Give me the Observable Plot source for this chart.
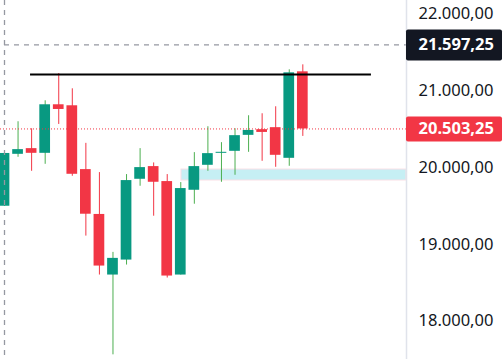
<!DOCTYPE html>
<html><head><meta charset="utf-8">
<script src="https://cdn.jsdelivr.net/npm/d3@7"></script>
<script src="https://cdn.jsdelivr.net/npm/@observablehq/plot@0.6"></script>
<style>
html,body{margin:0;padding:0;background:#fff;}
#chart svg{display:block;}
</style>
</head><body><div id="chart"></div>
<script>
// Candle data (index, OHLC)
const candleIndex = [0,1,2,3,4,5,6,7,8,9,10,11,12,13,14,15,16,17,18,19,20,21,22];
const opens  = [19497,20173,20247,20186,20818,20805,19974,19390,18601,18796,19848,20013,19818,18601,19705,20030,20186,20212,20420,20494,20520,20121,21247];
const highs  = [20182,20597,20506,20870,21225,21026,20316,19935,18896,19909,20247,20061,19909,19805,20195,20532,20325,20506,20675,20701,20792,21273,21338];
const lows   = [19497,20134,19952,20043,20562,19887,19108,18601,17562,18731,19757,19367,18562,18601,19523,19952,19809,19900,20199,20082,20004,20017,20406];
const closes = [20184,20234,20186,20818,20757,19913,19393,18718,18818,19831,20000,19809,18588,19727,20013,20182,20199,20416,20484,20458,20160,21234,20503.25];

// Axis ticks
const yTicks = [18000,19000,20000,21000,22000];

// Annotations
const resistancePrice = [21212];
const resistanceFrom = [1.92];
const resistanceTo = [27.06];
const zoneTop = [19975];
const zoneBottom = [19832];
const zoneFrom = [13.05];
const markerIndex = [0];
const refPrice = [21597.25];
const lastPrice = [20503.25];

const xDomain = [-0.295, 29.646];
const yDomain = [17501.3, 22175.8];
const xMax = xDomain[1];

const de = d3.formatLocale({decimal: ",", thousands: ".", grouping: [3], currency: ["", ""]});
const fmt = de.format(",.2f");

const candles = candleIndex.map((i, k) => ({i, o: opens[k], h: highs[k], l: lows[k], c: closes[k], up: closes[k] >= opens[k]}));
const UP = "#089981", DOWN = "#f23645", UPWICK = "#4caf50";
const half = 0.395;

const plot = Plot.plot({
  width: 503,
  height: 359,
  marginTop: 0, marginBottom: 0, marginLeft: 0, marginRight: 97,
  style: {fontFamily: "'Noto Sans', sans-serif", fontSize: "16.5px", background: "#fff", color: "#131722", overflow: "hidden"},
  x: {domain: xDomain, axis: null},
  y: {domain: yDomain, axis: "right", ticks: yTicks, tickFormat: fmt, tickSize: 0, tickPadding: 12, label: null},
  marks: [
    // zone
    Plot.rect(zoneTop, {x1: zoneFrom[0], x2: xMax, y1: d => d, y2: (d, k) => zoneBottom[k], fill: "#c6eff4", stroke: "#f9dfe6", strokeWidth: 1}),
    // wicks
    Plot.ruleX(candles, {x: "i", y1: "l", y2: "h", stroke: d => d.up ? UPWICK : DOWN, strokeWidth: 1}),
    // bodies
    Plot.rect(candles, {x1: d => d.i - half, x2: d => d.i + half, y1: "o", y2: "c", fill: d => d.up ? UP : DOWN}),
    // vertical dashed marker
    Plot.ruleX(markerIndex, {stroke: "#9598a1", strokeWidth: 1.3, strokeDasharray: "5,5"}),
    // horizontal dashed reference
    Plot.ruleY(refPrice, {x1: markerIndex[0], x2: xMax, stroke: "#9598a1", strokeWidth: 1.3, strokeDasharray: "5,5"}),
    // resistance line
    Plot.ruleY(resistancePrice, {x1: resistanceFrom[0], x2: resistanceTo[0], stroke: "#000", strokeWidth: 2.2}),
    // last price dotted
    Plot.ruleY(lastPrice, {x1: xDomain[0], x2: xMax, stroke: DOWN, strokeWidth: 1, strokeDasharray: "1,2"}),
    // price axis border
    Plot.ruleX([xMax], {stroke: "#e0e3eb", strokeWidth: 1.5}),
    // label boxes
    Plot.rect(refPrice, {x1: xMax, x2: xMax, y1: d => d, y2: d => d, insetTop: -15, insetBottom: -16, insetRight: -96, fill: "#131722", rx: 2}),
    Plot.rect(lastPrice, {x1: xMax, x2: xMax, y1: d => d, y2: d => d, insetTop: -12, insetBottom: -13, insetRight: -96, fill: DOWN, rx: 2}),
    Plot.text(refPrice, {x: xMax, y: d => d, text: d => fmt(d), dx: 12, textAnchor: "start", fill: "#fff", fontWeight: 700, fontSize: 16.5}),
    Plot.text(lastPrice, {x: xMax, y: d => d, text: d => fmt(d), dx: 12, textAnchor: "start", fill: "#fff", fontWeight: 700, fontSize: 16.5})
  ]
});
document.getElementById("chart").appendChild(plot);
</script>
</body></html>
